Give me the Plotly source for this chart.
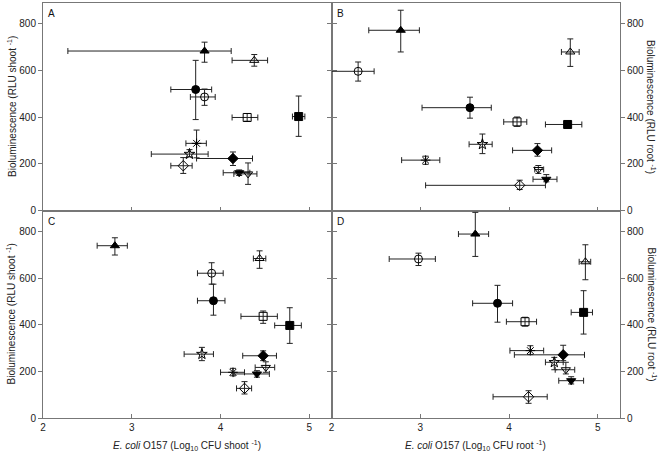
import plotly.graph_objects as go

symbols = ["triangle-up", "triangle-up-open", "circle", "circle-open", "square-open", "square",
           "asterisk-open", "star-open", "diamond-open", "diamond", "triangle-down", "triangle-down-open"]

# Panel A (shoot, top-left)
a_x = [3.82, 4.38, 3.72, 3.82, 4.30, 4.88, 3.73, 3.65, 3.58, 4.14, 4.21, 4.31]
a_xlo = [2.28, 4.13, 3.44, 3.66, 4.13, 4.81, 3.61, 3.22, 3.44, 3.73, 4.03, 4.15]
a_xhi = [4.12, 4.53, 3.90, 3.94, 4.42, 4.95, 3.84, 3.86, 3.68, 4.36, 4.33, 4.41]
a_y = [684, 644, 519, 487, 399, 403, 288, 242, 192, 223, 162, 157]
a_ylo = [636, 619, 390, 451, 383, 318, 226, 230, 159, 193, 150, 112]
a_yhi = [722, 669, 644, 521, 416, 491, 345, 261, 227, 251, 174, 204]

# Panel B (root, top-right)
b_x = [2.78, 4.69, 3.56, 2.30, 4.09, 4.66, 3.06, 3.70, 4.12, 4.32, 4.42, 4.33]
b_xlo = [2.42, 4.59, 3.02, 2.00, 3.94, 4.41, 2.79, 3.55, 3.06, 4.04, 4.27, 4.29]
b_xhi = [2.99, 4.79, 3.80, 2.48, 4.20, 4.82, 3.22, 3.81, 4.41, 4.48, 4.54, 4.39]
b_y = [773, 680, 441, 597, 380, 369, 216, 284, 108, 258, 134, 176]
b_ylo = [680, 618, 396, 555, 361, 353, 198, 244, 90, 233, 123, 159]
b_yhi = [859, 736, 486, 637, 401, 385, 233, 328, 130, 287, 154, 193]

# Panel C (shoot, bottom-left)
c_x = [2.81, 4.44, 3.92, 3.90, 4.48, 4.78, 4.14, 3.79, 4.27, 4.48, 4.41, 4.51]
c_xlo = [2.61, 4.37, 3.74, 3.74, 4.23, 4.61, 4.00, 3.59, 4.18, 4.25, 4.15, 4.39]
c_xhi = [2.95, 4.51, 4.05, 4.03, 4.64, 4.91, 4.27, 3.92, 4.35, 4.63, 4.55, 4.61]
c_y = [739, 684, 503, 621, 436, 397, 196, 274, 127, 267, 189, 217]
c_ylo = [699, 642, 441, 574, 406, 320, 181, 246, 103, 246, 175, 196]
c_yhi = [773, 717, 574, 666, 459, 473, 213, 303, 156, 288, 203, 241]

# Panel D (root, bottom-right)
d_x = [3.62, 4.86, 3.87, 2.98, 4.18, 4.84, 4.24, 4.51, 4.22, 4.61, 4.70, 4.64]
d_xlo = [3.43, 4.79, 3.59, 2.65, 3.97, 4.70, 4.01, 4.41, 3.82, 4.06, 4.56, 4.52]
d_xhi = [3.77, 4.92, 4.04, 3.17, 4.31, 4.94, 4.39, 4.61, 4.43, 4.85, 4.84, 4.74]
d_y = [789, 670, 492, 682, 413, 453, 289, 239, 91, 271, 160, 207]
d_ylo = [693, 593, 411, 654, 394, 360, 272, 207, 63, 246, 146, 189]
d_yhi = [882, 743, 569, 707, 432, 546, 310, 260, 117, 312, 177, 239]

x_ticks = [2, 3, 4, 5]
y_ticks = [0, 200, 400, 600, 800]
panel_letters = ["A", "B", "C", "D"]

panels = [
    (a_x, a_xlo, a_xhi, a_y, a_ylo, a_yhi, "x", "y"),
    (b_x, b_xlo, b_xhi, b_y, b_ylo, b_yhi, "x2", "y2"),
    (c_x, c_xlo, c_xhi, c_y, c_ylo, c_yhi, "x3", "y3"),
    (d_x, d_xlo, d_xhi, d_y, d_ylo, d_yhi, "x4", "y4"),
]

fig = go.Figure()
for (px, pxlo, pxhi, py, pylo, pyhi, xa, ya) in panels:
    for i, sym in enumerate(symbols):
        fig.add_trace(go.Scatter(
            x=[px[i]], y=[py[i]], xaxis=xa, yaxis=ya, mode="markers",
            marker=dict(symbol=sym, size=8, color="black",
                        line=dict(color="black", width=1)),
            error_x=dict(type="data", symmetric=False,
                         array=[pxhi[i] - px[i]], arrayminus=[px[i] - pxlo[i]],
                         color="#222", thickness=1, width=3),
            error_y=dict(type="data", symmetric=False,
                         array=[pyhi[i] - py[i]], arrayminus=[py[i] - pylo[i]],
                         color="#222", thickness=1, width=3),
            showlegend=False, hoverinfo="skip"))

LC = "#777"
TF = dict(family="Liberation Sans, Arial, sans-serif", size=10, color="#222")
xcommon = dict(range=[2, 5.25], tickvals=x_ticks, ticks="inside", ticklen=4, tickcolor=LC,
               showline=True, linecolor=LC, linewidth=1, mirror=True, showgrid=False,
               zeroline=False, tickfont=TF)
ycommon = dict(range=[0, 890], tickvals=y_ticks, ticks="outside", ticklen=4, tickcolor=LC,
               showline=True, linecolor=LC, linewidth=1, mirror="ticks", showgrid=False,
               zeroline=False, tickfont=TF)

fig.update_layout(
    width=661, height=459,
    margin=dict(l=43, r=41, t=3, b=41),
    paper_bgcolor="white", plot_bgcolor="white",
    font=TF,
    xaxis=dict(domain=[0, 0.5], anchor="y", showticklabels=False, **xcommon),
    yaxis=dict(domain=[0.5, 1], anchor="x", side="left", **ycommon),
    xaxis2=dict(domain=[0.5, 1], anchor="y2", showticklabels=False, **xcommon),
    yaxis2=dict(domain=[0.5, 1], anchor="x2", side="right", **ycommon),
    xaxis3=dict(domain=[0, 0.5], anchor="y3", **xcommon),
    yaxis3=dict(domain=[0, 0.5], anchor="x3", side="left", **ycommon),
    xaxis4=dict(domain=[0.5, 1], anchor="y4", **xcommon),
    yaxis4=dict(domain=[0, 0.5], anchor="x4", side="right", **ycommon),
)

ann = []
for letter, xa, ya in zip(panel_letters, ["x", "x2", "x3", "x4"], ["y", "y2", "y3", "y4"]):
    ann.append(dict(text=letter, xref=xa + " domain", yref=ya + " domain", x=0.012, y=0.985,
                    xanchor="left", yanchor="top", showarrow=False,
                    font=dict(family="Liberation Sans, Arial, sans-serif", size=10, color="#111")))

shoot_y = "Bioluminescence (RLU shoot <sup>-1</sup>)"
root_y = "Bioluminescence (RLU root <sup>-1</sup>)"
for ypos in [0.75, 0.25]:
    ann.append(dict(text=shoot_y, xref="paper", yref="paper", x=-0.055, y=ypos,
                    xanchor="center", yanchor="middle", textangle=-90, showarrow=False,
                    font=TF))
    ann.append(dict(text=root_y, xref="paper", yref="paper", x=1.055, y=ypos,
                    xanchor="center", yanchor="middle", textangle=90, showarrow=False,
                    font=TF))
ann.append(dict(text="<i>E. coli</i> O157 (Log<sub>10</sub> CFU shoot <sup>-1</sup>)",
                xref="paper", yref="paper", x=0.25, y=-0.045, xanchor="center", yanchor="top",
                showarrow=False, font=TF))
ann.append(dict(text="<i>E. coli</i> O157 (Log<sub>10</sub> CFU root <sup>-1</sup>)",
                xref="paper", yref="paper", x=0.75, y=-0.045, xanchor="center", yanchor="top",
                showarrow=False, font=TF))
fig.update_layout(annotations=ann)

fig.write_html("out.html", config={"displayModeBar": False},
               post_script="document.body.style.margin='0';document.body.style.overflow='hidden';")
